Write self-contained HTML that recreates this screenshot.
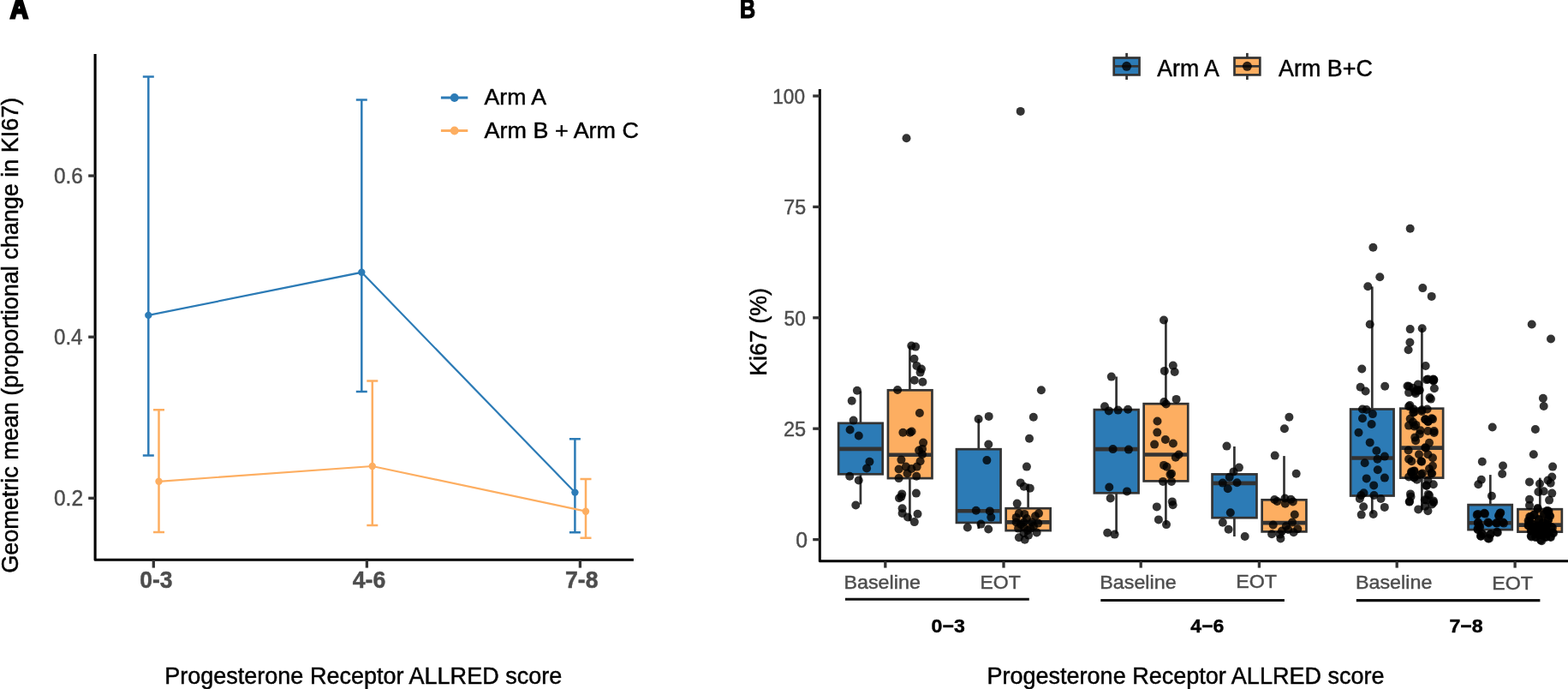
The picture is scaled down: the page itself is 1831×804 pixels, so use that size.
<!DOCTYPE html>
<html lang="en">
<head>
<meta charset="utf-8">
<title>Ki67 by Progesterone Receptor ALLRED score</title>
<style>
html,body{margin:0;padding:0;background:#fff;}
body{width:1831px;height:804px;overflow:hidden;font-family:"Liberation Sans", sans-serif;}
svg{display:block;}
</style>
</head>
<body>
<svg width="1831" height="804" viewBox="0 0 1831 804" font-family='"Liberation Sans", sans-serif'>
<rect width="1831" height="804" fill="#fff"/>
<text transform="translate(22.3 21.3) scale(0.93 1.1)" text-anchor="middle" font-size="31" font-weight="bold" fill="#000" stroke="#000" stroke-width="2.6" stroke-linejoin="miter">A</text>
<text transform="translate(873.0 20.8) scale(0.81 1.02)" text-anchor="middle" font-size="31" font-weight="bold" fill="#000" stroke="#000" stroke-width="1.2" stroke-linejoin="miter">B</text>
<g id="panelA">
<g stroke="#2C7BB6" fill="none">
<polyline stroke-width="2.2" points="173.3,367.9 422.3,317.8 671.4,574.6"/>
<path stroke-width="2.5" d="M173.3 89.6V531.6M166.8 89.6H179.8M166.8 531.6H179.8M422.3 116.4V457M415.8 116.4H428.8M415.8 457H428.8M671.4 512.2V621.3M664.9 512.2H677.9M664.9 621.3H677.9"/>
</g>
<g fill="#2C7BB6"><circle cx="173.3" cy="367.9" r="4.2"/><circle cx="422.3" cy="317.8" r="4.2"/><circle cx="671.4" cy="574.6" r="4.2"/></g>
<g stroke="#FDAE61" fill="none">
<polyline stroke-width="2.2" points="185.5,561.8 434.8,544 684,596.7"/>
<path stroke-width="2.5" d="M185.5 478.3V621.1M179.0 478.3H192.0M179.0 621.1H192.0M434.8 444.5V613M428.3 444.5H441.3M428.3 613H441.3M684 559V627.7M677.5 559H690.5M677.5 627.7H690.5"/>
</g>
<g fill="#FDAE61"><circle cx="185.5" cy="561.8" r="4.2"/><circle cx="434.8" cy="544" r="4.2"/><circle cx="684" cy="596.7" r="4.2"/></g>
<path d="M111.1 63V653.3H739.9" stroke="#000" stroke-width="3.1" fill="none" stroke-linejoin="round"/>
<g stroke="#333" stroke-width="3.3">
<line x1="103.2" x2="111.1" y1="205.1" y2="205.1"/>
<line x1="103.2" x2="111.1" y1="393.2" y2="393.2"/>
<line x1="103.2" x2="111.1" y1="581.3" y2="581.3"/>
<line x1="179.3" x2="179.3" y1="653.3" y2="662.6"/>
<line x1="428.4" x2="428.4" y1="653.3" y2="662.6"/>
<line x1="677.4" x2="677.4" y1="653.3" y2="662.6"/>
</g>
<text transform="translate(63.03 214.04) scale(1.0000 1.0431)" font-size="24.36" fill="#4D4D4D" stroke="#4D4D4D" stroke-width="0.45" >0.6</text>
<text transform="translate(63.04 402.14) scale(1.0000 1.0551)" font-size="24.08" fill="#4D4D4D" stroke="#4D4D4D" stroke-width="0.45" >0.4</text>
<text transform="translate(63.03 590.24) scale(1.0000 1.0391)" font-size="24.45" fill="#4D4D4D" stroke="#4D4D4D" stroke-width="0.45" >0.2</text>
<text transform="translate(163.25 686.10) scale(1.0000 1.0271)" font-size="26.49" font-weight="bold" fill="#4D4D4D" stroke="#4D4D4D" stroke-width="0.45" >0-3</text>
<text transform="translate(411.71 686.10) scale(1.0000 1.0205)" font-size="26.66" font-weight="bold" fill="#4D4D4D" stroke="#4D4D4D" stroke-width="0.45" >4-6</text>
<text transform="translate(660.00 686.10) scale(1.0000 1.0187)" font-size="26.71" font-weight="bold" fill="#4D4D4D" stroke="#4D4D4D" stroke-width="0.45" >7-8</text>
<text transform="translate(192.14 797.70) scale(1.0000 0.9938)" font-size="27.04" fill="#000" stroke="#000" stroke-width="0.45" >Progesterone Receptor ALLRED score</text>
<text transform="translate(20.89 668.74) rotate(-90) scale(1.0000 1.0171)" font-size="27.00" fill="#000" stroke="#000" stroke-width="0.45" >Geometric mean (proportional change in KI67)</text>
<line x1="514.9" x2="546.3" y1="114" y2="114" stroke="#2C7BB6" stroke-width="2.8"/><circle cx="530.7" cy="114" r="4.9" fill="#2C7BB6"/>
<line x1="514.9" x2="546.3" y1="152.5" y2="152.5" stroke="#FDAE61" stroke-width="2.8"/><circle cx="530.7" cy="152.5" r="4.9" fill="#FDAE61"/>
<text transform="translate(565.57 122.30) scale(1.0000 0.9861)" font-size="26.66" fill="#000" stroke="#000" stroke-width="0.45" >Arm A</text>
<text transform="translate(565.57 161.29) scale(1.0000 0.9806)" font-size="26.96" fill="#000" stroke="#000" stroke-width="0.45" >Arm B + Arm C</text>
</g>
<g id="panelB">
<g stroke="#333" stroke-width="2.7" fill="none">
<path d="M1004.9 456.6V493.8M1004.9 553.3V588.4"/>
<rect x="979.15" y="493.8" width="51.50" height="59.50" fill="#2C7BB6"/>
<line x1="979.15" x2="1030.65" y1="523.9" y2="523.9" stroke-width="4.6"/>
</g>
<g stroke="#333" stroke-width="2.7" fill="none">
<path d="M1062.4 403.5V455.3M1062.4 558.1V608.3"/>
<rect x="1036.95" y="455.3" width="51.50" height="102.80" fill="#FDAE61"/>
<line x1="1036.95" x2="1088.45" y1="530.7" y2="530.7" stroke-width="4.6"/>
</g>
<g stroke="#333" stroke-width="2.7" fill="none">
<path d="M1142.8 488.7V524.2M1142.8 609.9V617.0"/>
<rect x="1116.95" y="524.2" width="51.60" height="85.70" fill="#2C7BB6"/>
<line x1="1116.95" x2="1168.55" y1="596.2" y2="596.2" stroke-width="4.6"/>
</g>
<g stroke="#333" stroke-width="2.7" fill="none">
<path d="M1200.6 564.5V593.2M1200.6 619.1V619.1"/>
<rect x="1174.65" y="593.2" width="52.00" height="25.90" fill="#FDAE61"/>
<line x1="1174.65" x2="1226.65" y1="609.4" y2="609.4" stroke-width="4.6"/>
</g>
<g stroke="#333" stroke-width="2.7" fill="none">
<path d="M1303.6 439.6V478.1M1303.6 575.3V622.8"/>
<rect x="1277.85" y="478.1" width="51.70" height="97.20" fill="#2C7BB6"/>
<line x1="1277.85" x2="1329.55" y1="524.1" y2="524.1" stroke-width="4.6"/>
</g>
<g stroke="#333" stroke-width="2.7" fill="none">
<path d="M1361.4 373.5V471.2M1361.4 561.4V612.5"/>
<rect x="1335.65" y="471.2" width="51.60" height="90.20" fill="#FDAE61"/>
<line x1="1335.65" x2="1387.25" y1="530.5" y2="530.5" stroke-width="4.6"/>
</g>
<g stroke="#333" stroke-width="2.7" fill="none">
<path d="M1441.4 521.0V553.4M1441.4 604.2V626.0"/>
<rect x="1415.55" y="553.4" width="51.90" height="50.80" fill="#2C7BB6"/>
<line x1="1415.55" x2="1467.45" y1="563.9" y2="563.9" stroke-width="4.6"/>
</g>
<g stroke="#333" stroke-width="2.7" fill="none">
<path d="M1499.5 532.1V583.3M1499.5 620.4V620.4"/>
<rect x="1473.65" y="583.3" width="51.80" height="37.10" fill="#FDAE61"/>
<line x1="1473.65" x2="1525.45" y1="610.1" y2="610.1" stroke-width="4.6"/>
</g>
<g stroke="#333" stroke-width="2.7" fill="none">
<path d="M1602.3 334.4V477.5M1602.3 578.5V599.5"/>
<rect x="1577.15" y="477.5" width="50.40" height="101.00" fill="#2C7BB6"/>
<line x1="1577.15" x2="1627.55" y1="534.5" y2="534.5" stroke-width="4.6"/>
</g>
<g stroke="#333" stroke-width="2.7" fill="none">
<path d="M1660.4 382.8V476.7M1660.4 557.6V595.5"/>
<rect x="1635.35" y="476.7" width="49.80" height="80.90" fill="#FDAE61"/>
<line x1="1635.35" x2="1685.15" y1="522.6" y2="522.6" stroke-width="4.6"/>
</g>
<g stroke="#333" stroke-width="2.7" fill="none">
<path d="M1740.3 554.1V589.1M1740.3 618.1V618.1"/>
<rect x="1714.55" y="589.1" width="51.20" height="29.00" fill="#2C7BB6"/>
<line x1="1714.55" x2="1765.75" y1="610.3" y2="610.3" stroke-width="4.6"/>
</g>
<g stroke="#333" stroke-width="2.7" fill="none">
<path d="M1798.3 557.6V594.2M1798.3 620.6V620.6"/>
<rect x="1772.45" y="594.2" width="51.40" height="26.40" fill="#FDAE61"/>
<line x1="1772.45" x2="1823.85" y1="612.6" y2="612.6" stroke-width="4.6"/>
</g>
<g fill="#000" fill-opacity="0.8">
<circle cx="1646.7" cy="266.7" r="5"/><circle cx="1603.4" cy="288.7" r="5"/><circle cx="1611.3" cy="323.2" r="5"/><circle cx="1597.3" cy="334.2" r="5"/><circle cx="1599.7" cy="378.5" r="5"/><circle cx="1590.3" cy="430.5" r="5"/><circle cx="1588.6" cy="451.7" r="5"/><circle cx="1594.6" cy="456.5" r="5"/><circle cx="1617.2" cy="450.8" r="5"/><circle cx="1591" cy="477.5" r="5"/><circle cx="1595.7" cy="478" r="5"/><circle cx="1602.9" cy="483.1" r="5"/><circle cx="1591" cy="488.3" r="5"/><circle cx="1601.6" cy="495" r="5"/><circle cx="1586.5" cy="504.7" r="5"/><circle cx="1599.7" cy="516.4" r="5"/><circle cx="1607.4" cy="526" r="5"/><circle cx="1616.9" cy="532.6" r="5"/><circle cx="1608.5" cy="535.8" r="5"/><circle cx="1593.7" cy="540.3" r="5"/><circle cx="1608.8" cy="548.2" r="5"/><circle cx="1595.7" cy="558.4" r="5"/><circle cx="1616.9" cy="557.6" r="5"/><circle cx="1604.2" cy="566.4" r="5"/><circle cx="1592.5" cy="575.3" r="5"/><circle cx="1589.4" cy="578" r="5"/><circle cx="1587.8" cy="582" r="5"/><circle cx="1604.5" cy="578" r="5"/><circle cx="1612.5" cy="582" r="5"/><circle cx="1592.2" cy="591.2" r="5"/><circle cx="1616.8" cy="591.9" r="5"/><circle cx="1589.7" cy="600.6" r="5"/><circle cx="1603.7" cy="600" r="5"/>
<circle cx="1661.3" cy="336.1" r="5"/><circle cx="1671.7" cy="345.9" r="5"/><circle cx="1646.7" cy="384.1" r="5"/><circle cx="1660.7" cy="383.3" r="5"/><circle cx="1646.4" cy="399.5" r="5"/><circle cx="1644.6" cy="408.3" r="5"/><circle cx="1664.7" cy="427" r="5"/><circle cx="1667.4" cy="442.5" r="5"/><circle cx="1674.2" cy="443.6" r="5"/><circle cx="1673.6" cy="444.4" r="5"/><circle cx="1655.9" cy="448.5" r="5"/><circle cx="1645.1" cy="450.8" r="5"/><circle cx="1649.9" cy="452.8" r="5"/><circle cx="1657.8" cy="455.2" r="5"/><circle cx="1674.9" cy="453.3" r="5"/><circle cx="1645.1" cy="458.1" r="5"/><circle cx="1652.3" cy="457.1" r="5"/><circle cx="1653" cy="459.2" r="5"/><circle cx="1670.9" cy="465.6" r="5"/><circle cx="1645.1" cy="474.3" r="5"/><circle cx="1650.7" cy="477.5" r="5"/><circle cx="1666.6" cy="477.5" r="5"/><circle cx="1660.2" cy="480" r="5"/><circle cx="1651.5" cy="480.7" r="5"/><circle cx="1646.7" cy="488.7" r="5"/><circle cx="1664.2" cy="489.5" r="5"/><circle cx="1671.8" cy="488.3" r="5"/><circle cx="1667.4" cy="491.9" r="5"/><circle cx="1649.9" cy="492.6" r="5"/><circle cx="1645.1" cy="496.6" r="5"/><circle cx="1651.5" cy="497.4" r="5"/><circle cx="1658.6" cy="502.2" r="5"/><circle cx="1667.4" cy="503" r="5"/><circle cx="1674.6" cy="504.9" r="5"/><circle cx="1657.8" cy="506.4" r="5"/><circle cx="1652.3" cy="510.4" r="5"/><circle cx="1653.1" cy="514.3" r="5"/><circle cx="1669" cy="516.7" r="5"/><circle cx="1664.2" cy="522.3" r="5"/><circle cx="1644.6" cy="525.5" r="5"/><circle cx="1657" cy="530.3" r="5"/><circle cx="1667.4" cy="530.3" r="5"/><circle cx="1673" cy="534.2" r="5"/><circle cx="1645.1" cy="535.8" r="5"/><circle cx="1648.3" cy="538.2" r="5"/><circle cx="1659.4" cy="538.2" r="5"/><circle cx="1673" cy="543.8" r="5"/><circle cx="1669" cy="547" r="5"/><circle cx="1651.5" cy="549.4" r="5"/><circle cx="1648.3" cy="551.8" r="5"/><circle cx="1661" cy="552.5" r="5"/><circle cx="1672.2" cy="552.5" r="5"/><circle cx="1645.1" cy="556.5" r="5"/><circle cx="1651.5" cy="557.3" r="5"/><circle cx="1654.6" cy="559.7" r="5"/><circle cx="1667.4" cy="560.5" r="5"/><circle cx="1673.8" cy="565.3" r="5"/><circle cx="1665.8" cy="566.9" r="5"/><circle cx="1647" cy="576.4" r="5"/><circle cx="1647.5" cy="579.6" r="5"/><circle cx="1669" cy="578" r="5"/><circle cx="1645.9" cy="585.2" r="5"/><circle cx="1665.8" cy="583.6" r="5"/><circle cx="1673.8" cy="584.4" r="5"/><circle cx="1672.2" cy="588.4" r="5"/><circle cx="1656.2" cy="594.4" r="5"/><circle cx="1667.4" cy="596.3" r="5"/><circle cx="1664.2" cy="590.8" r="5"/><circle cx="1666.0" cy="443.1" r="5"/><circle cx="1674.3" cy="443.1" r="5"/><circle cx="1673.6" cy="442.5" r="5"/><circle cx="1643.5" cy="450.5" r="5"/><circle cx="1656.7" cy="455.7" r="5"/><circle cx="1654.2" cy="455.3" r="5"/><circle cx="1669.5" cy="464.1" r="5"/><circle cx="1646.4" cy="473.0" r="5"/><circle cx="1660.4" cy="478.3" r="5"/><circle cx="1650.3" cy="481.4" r="5"/><circle cx="1664.5" cy="489.3" r="5"/><circle cx="1673.0" cy="489.1" r="5"/><circle cx="1667.7" cy="492.0" r="5"/><circle cx="1653.4" cy="495.9" r="5"/><circle cx="1674.6" cy="503.1" r="5"/><circle cx="1665.0" cy="522.7" r="5"/><circle cx="1660.2" cy="538.8" r="5"/><circle cx="1651.0" cy="550.1" r="5"/><circle cx="1648.1" cy="550.5" r="5"/><circle cx="1659.2" cy="553.6" r="5"/><circle cx="1671.2" cy="552.1" r="5"/><circle cx="1651.3" cy="557.5" r="5"/><circle cx="1665.5" cy="566.3" r="5"/><circle cx="1667.7" cy="576.9" r="5"/><circle cx="1645.8" cy="585.6" r="5"/><circle cx="1663.8" cy="583.3" r="5"/><circle cx="1674.1" cy="586.2" r="5"/>
<circle cx="1742.7" cy="498.5" r="5"/><circle cx="1730.8" cy="538.7" r="5"/><circle cx="1755" cy="543.5" r="5"/><circle cx="1754.2" cy="553" r="5"/><circle cx="1729.8" cy="559.7" r="5"/><circle cx="1726.3" cy="565.3" r="5"/><circle cx="1741.9" cy="578.8" r="5"/><circle cx="1725.8" cy="599.9" r="5"/><circle cx="1733.3" cy="598.7" r="5"/><circle cx="1751.6" cy="598.7" r="5"/><circle cx="1750.4" cy="602.3" r="5"/><circle cx="1725.8" cy="610.6" r="5"/><circle cx="1738.5" cy="610.2" r="5"/><circle cx="1748" cy="610.6" r="5"/><circle cx="1756" cy="610.6" r="5"/><circle cx="1728.2" cy="615" r="5"/><circle cx="1725.8" cy="618.2" r="5"/><circle cx="1730.5" cy="623" r="5"/><circle cx="1748.8" cy="621.4" r="5"/><circle cx="1729.4" cy="625.7" r="5"/><circle cx="1740.9" cy="623" r="5"/><circle cx="1737.7" cy="628.5" r="5"/><circle cx="1724.7" cy="600.9" r="5"/><circle cx="1734.0" cy="599.6" r="5"/><circle cx="1752.3" cy="598.4" r="5"/><circle cx="1750.2" cy="601.3" r="5"/><circle cx="1726.1" cy="609.5" r="5"/><circle cx="1737.5" cy="609.5" r="5"/><circle cx="1747.2" cy="610.2" r="5"/><circle cx="1754.9" cy="609.4" r="5"/><circle cx="1727.4" cy="614.0" r="5"/><circle cx="1725.5" cy="617.1" r="5"/><circle cx="1731.4" cy="623.3" r="5"/><circle cx="1748.0" cy="620.8" r="5"/><circle cx="1729.0" cy="625.4" r="5"/><circle cx="1740.0" cy="623.8" r="5"/><circle cx="1738.9" cy="628.4" r="5"/>
<circle cx="1788.7" cy="378.5" r="5"/><circle cx="1811" cy="395.5" r="5"/><circle cx="1801.9" cy="464.8" r="5"/><circle cx="1802.7" cy="474" r="5"/><circle cx="1792.9" cy="501" r="5"/><circle cx="1790.8" cy="530.3" r="5"/><circle cx="1813.1" cy="544.6" r="5"/><circle cx="1812.3" cy="556.5" r="5"/><circle cx="1807.5" cy="560.5" r="5"/><circle cx="1786" cy="562.4" r="5"/><circle cx="1798" cy="564.5" r="5"/><circle cx="1810.7" cy="563.7" r="5"/><circle cx="1796.4" cy="574" r="5"/><circle cx="1802.7" cy="573.2" r="5"/><circle cx="1812.3" cy="575.6" r="5"/><circle cx="1786" cy="582.8" r="5"/><circle cx="1809.1" cy="583.6" r="5"/><circle cx="1786" cy="589.8" r="5"/><circle cx="1795.6" cy="594" r="5"/><circle cx="1807.5" cy="596.3" r="5"/><circle cx="1808.5" cy="596.7" r="5"/><circle cx="1810.1" cy="602.3" r="5"/><circle cx="1786.2" cy="603.1" r="5"/><circle cx="1791.8" cy="600.7" r="5"/><circle cx="1803.7" cy="599.9" r="5"/><circle cx="1784.6" cy="607.8" r="5"/><circle cx="1784.6" cy="613.4" r="5"/><circle cx="1789.4" cy="611.8" r="5"/><circle cx="1795" cy="613.4" r="5"/><circle cx="1801.4" cy="610.2" r="5"/><circle cx="1806.9" cy="611.8" r="5"/><circle cx="1811.7" cy="615" r="5"/><circle cx="1813.3" cy="621.4" r="5"/><circle cx="1787.8" cy="619.8" r="5"/><circle cx="1793.4" cy="619.8" r="5"/><circle cx="1799.8" cy="619.8" r="5"/><circle cx="1806.1" cy="619.8" r="5"/><circle cx="1787.8" cy="625.3" r="5"/><circle cx="1793.4" cy="626.1" r="5"/><circle cx="1799" cy="630.1" r="5"/><circle cx="1805.3" cy="626.9" r="5"/><circle cx="1810.9" cy="626.9" r="5"/><circle cx="1801.4" cy="624.5" r="5"/><circle cx="1790" cy="615" r="5"/><circle cx="1797" cy="606" r="5"/><circle cx="1804" cy="616" r="5"/><circle cx="1796" cy="623" r="5"/><circle cx="1803" cy="621" r="5"/><circle cx="1808" cy="607" r="5"/><circle cx="1800" cy="614" r="5"/><circle cx="1795.6" cy="593.0" r="5"/><circle cx="1806.5" cy="595.9" r="5"/><circle cx="1807.9" cy="597.5" r="5"/><circle cx="1809.3" cy="601.2" r="5"/><circle cx="1787.3" cy="603.2" r="5"/><circle cx="1791.0" cy="600.8" r="5"/><circle cx="1802.6" cy="600.0" r="5"/><circle cx="1785.7" cy="608.7" r="5"/><circle cx="1785.1" cy="612.8" r="5"/><circle cx="1789.1" cy="611.0" r="5"/><circle cx="1795.7" cy="613.5" r="5"/><circle cx="1802.1" cy="609.8" r="5"/><circle cx="1806.2" cy="612.5" r="5"/><circle cx="1812.9" cy="615.8" r="5"/><circle cx="1814.0" cy="622.2" r="5"/><circle cx="1788.4" cy="619.1" r="5"/><circle cx="1793.4" cy="619.5" r="5"/><circle cx="1798.7" cy="618.7" r="5"/><circle cx="1805.6" cy="619.2" r="5"/><circle cx="1788.3" cy="626.4" r="5"/><circle cx="1793.3" cy="627.1" r="5"/><circle cx="1800.2" cy="631.2" r="5"/><circle cx="1805.0" cy="626.2" r="5"/><circle cx="1810.2" cy="626.2" r="5"/><circle cx="1800.7" cy="624.8" r="5"/><circle cx="1791.0" cy="615.8" r="5"/><circle cx="1797.0" cy="606.4" r="5"/><circle cx="1804.7" cy="615.0" r="5"/><circle cx="1796.4" cy="624.0" r="5"/><circle cx="1803.7" cy="621.6" r="5"/><circle cx="1807.9" cy="606.2" r="5"/><circle cx="1800.7" cy="613.6" r="5"/>
<circle cx="1297.8" cy="439.6" r="5"/><circle cx="1290" cy="474.3" r="5"/><circle cx="1294.8" cy="479.4" r="5"/><circle cx="1305.6" cy="478.6" r="5"/><circle cx="1317.1" cy="477.8" r="5"/><circle cx="1299.6" cy="524.1" r="5"/><circle cx="1317.9" cy="524.6" r="5"/><circle cx="1295.3" cy="568.5" r="5"/><circle cx="1316" cy="573.4" r="5"/><circle cx="1296.7" cy="581.4" r="5"/><circle cx="1293.2" cy="621.7" r="5"/><circle cx="1301.6" cy="623.6" r="5"/>
<circle cx="1359" cy="373.5" r="5"/><circle cx="1369.8" cy="426.6" r="5"/><circle cx="1359.8" cy="432.9" r="5"/><circle cx="1371.7" cy="434" r="5"/><circle cx="1373.6" cy="465.9" r="5"/><circle cx="1359.3" cy="469.1" r="5"/><circle cx="1361.7" cy="471.5" r="5"/><circle cx="1351.5" cy="491.5" r="5"/><circle cx="1351.3" cy="504.6" r="5"/><circle cx="1360.9" cy="513" r="5"/><circle cx="1369.9" cy="517.5" r="5"/><circle cx="1348.1" cy="518.6" r="5"/><circle cx="1376.5" cy="530.5" r="5"/><circle cx="1372.8" cy="533.7" r="5"/><circle cx="1359" cy="542.9" r="5"/><circle cx="1362.5" cy="544.8" r="5"/><circle cx="1368" cy="552.8" r="5"/><circle cx="1366.5" cy="553.6" r="5"/><circle cx="1358" cy="561.9" r="5"/><circle cx="1368" cy="561.9" r="5"/><circle cx="1368.8" cy="585.4" r="5"/><circle cx="1369.6" cy="589.3" r="5"/><circle cx="1350.8" cy="591.4" r="5"/><circle cx="1352.9" cy="606.4" r="5"/><circle cx="1362" cy="612.1" r="5"/>
<circle cx="1432.5" cy="520.6" r="5"/><circle cx="1446.9" cy="545.6" r="5"/><circle cx="1440.5" cy="550.4" r="5"/><circle cx="1435.7" cy="556.8" r="5"/><circle cx="1427.8" cy="563.6" r="5"/><circle cx="1444.5" cy="563.2" r="5"/><circle cx="1433.8" cy="570.3" r="5"/><circle cx="1436.8" cy="598.2" r="5"/><circle cx="1427.8" cy="609.7" r="5"/><circle cx="1434.6" cy="617.7" r="5"/><circle cx="1453.7" cy="626" r="5"/>
<circle cx="1505.4" cy="486.7" r="5"/><circle cx="1499.9" cy="500.3" r="5"/><circle cx="1488.7" cy="531.6" r="5"/><circle cx="1513.7" cy="552.7" r="5"/><circle cx="1488.3" cy="583" r="5"/><circle cx="1491.4" cy="585" r="5"/><circle cx="1500.5" cy="581.5" r="5"/><circle cx="1500.8" cy="587.8" r="5"/><circle cx="1507.4" cy="582.8" r="5"/><circle cx="1509.8" cy="585.4" r="5"/><circle cx="1511.8" cy="600.5" r="5"/><circle cx="1509" cy="609.6" r="5"/><circle cx="1486.7" cy="612.5" r="5"/><circle cx="1501.8" cy="614" r="5"/><circle cx="1515.3" cy="617.2" r="5"/><circle cx="1510.6" cy="621.2" r="5"/><circle cx="1504.2" cy="618" r="5"/><circle cx="1497" cy="619.6" r="5"/><circle cx="1485.1" cy="623.3" r="5"/><circle cx="1494.6" cy="623.6" r="5"/><circle cx="1495.4" cy="628.4" r="5"/>
<circle cx="1000.9" cy="455.8" r="5"/><circle cx="994.7" cy="467.7" r="5"/><circle cx="996.6" cy="490.6" r="5"/><circle cx="992.6" cy="501.5" r="5"/><circle cx="1002.8" cy="508.5" r="5"/><circle cx="1015.4" cy="538.7" r="5"/><circle cx="1012.1" cy="546.5" r="5"/><circle cx="992.2" cy="555.7" r="5"/><circle cx="1002.7" cy="560.5" r="5"/><circle cx="999.3" cy="589.5" r="5"/>
<circle cx="1058.5" cy="161.3" r="5"/><circle cx="1064.3" cy="403.5" r="5"/><circle cx="1069.1" cy="404.6" r="5"/><circle cx="1067.5" cy="418.7" r="5"/><circle cx="1070.4" cy="426.9" r="5"/><circle cx="1075.9" cy="430.6" r="5"/><circle cx="1074.6" cy="434.6" r="5"/><circle cx="1067.8" cy="443.7" r="5"/><circle cx="1077.4" cy="445.7" r="5"/><circle cx="1048.1" cy="455" r="5"/><circle cx="1073.9" cy="482" r="5"/><circle cx="1054.4" cy="504.7" r="5"/><circle cx="1062.7" cy="504.8" r="5"/><circle cx="1064.6" cy="503.5" r="5"/><circle cx="1078.1" cy="516.6" r="5"/><circle cx="1077" cy="523.9" r="5"/><circle cx="1073.1" cy="525.5" r="5"/><circle cx="1077" cy="530.3" r="5"/><circle cx="1052.4" cy="536.6" r="5"/><circle cx="1074.6" cy="538.2" r="5"/><circle cx="1057.9" cy="544.6" r="5"/><circle cx="1070.7" cy="544.6" r="5"/><circle cx="1064.3" cy="547" r="5"/><circle cx="1049.6" cy="547.5" r="5"/><circle cx="1059.5" cy="552.5" r="5"/><circle cx="1070.2" cy="555.7" r="5"/><circle cx="1049.6" cy="558.1" r="5"/><circle cx="1053.2" cy="576.4" r="5"/><circle cx="1069.9" cy="575.6" r="5"/><circle cx="1050" cy="581.2" r="5"/><circle cx="1052.4" cy="579.6" r="5"/><circle cx="1053.6" cy="593.2" r="5"/><circle cx="1053.6" cy="599" r="5"/><circle cx="1071.5" cy="599.8" r="5"/><circle cx="1060" cy="603.5" r="5"/><circle cx="1067.8" cy="609.1" r="5"/>
<circle cx="1142.6" cy="489" r="5"/><circle cx="1154.7" cy="485.9" r="5"/><circle cx="1154.3" cy="518.5" r="5"/><circle cx="1152.4" cy="537.1" r="5"/><circle cx="1139.8" cy="595.7" r="5"/><circle cx="1155.8" cy="596.4" r="5"/><circle cx="1157.3" cy="603.6" r="5"/><circle cx="1145.5" cy="611.6" r="5"/><circle cx="1129.8" cy="615.5" r="5"/><circle cx="1154.2" cy="617.5" r="5"/>
<circle cx="1191.7" cy="129.9" r="5"/><circle cx="1215.9" cy="455.3" r="5"/><circle cx="1206.8" cy="486.8" r="5"/><circle cx="1202" cy="511.7" r="5"/><circle cx="1198.9" cy="544.6" r="5"/><circle cx="1191.7" cy="563.4" r="5"/><circle cx="1195.7" cy="567.7" r="5"/><circle cx="1202.8" cy="569.7" r="5"/><circle cx="1187.7" cy="587.6" r="5"/><circle cx="1189.9" cy="599.1" r="5"/><circle cx="1196.3" cy="599.9" r="5"/><circle cx="1213" cy="599.1" r="5"/><circle cx="1209" cy="602.3" r="5"/><circle cx="1186.7" cy="603.9" r="5"/><circle cx="1186.7" cy="609.4" r="5"/><circle cx="1195.5" cy="609.4" r="5"/><circle cx="1205" cy="609.4" r="5"/><circle cx="1212.2" cy="610.6" r="5"/><circle cx="1189.1" cy="616.6" r="5"/><circle cx="1195.5" cy="615" r="5"/><circle cx="1203.4" cy="616.6" r="5"/><circle cx="1210.6" cy="621.4" r="5"/><circle cx="1195.5" cy="622.2" r="5"/><circle cx="1201" cy="624.6" r="5"/><circle cx="1189.9" cy="627.3" r="5"/><circle cx="1196.7" cy="629.7" r="5"/><circle cx="1199" cy="605" r="5"/><circle cx="1192" cy="612" r="5"/><circle cx="1200" cy="619" r="5"/><circle cx="1207" cy="614" r="5"/>
</g>
<path d="M957.3 104.1V654.8H1832" stroke="#000" stroke-width="3.0" fill="none" stroke-linejoin="round"/>
<g stroke="#333" stroke-width="3.3">
<line x1="949.2" x2="957.3" y1="112" y2="112"/>
<line x1="949.2" x2="957.3" y1="241.4" y2="241.4"/>
<line x1="949.2" x2="957.3" y1="370.8" y2="370.8"/>
<line x1="949.2" x2="957.3" y1="500.2" y2="500.2"/>
<line x1="949.2" x2="957.3" y1="629.6" y2="629.6"/>
<line x1="1033.8" x2="1033.8" y1="654.8" y2="662.6"/>
<line x1="1172" x2="1172" y1="654.8" y2="662.6"/>
<line x1="1332.2" x2="1332.2" y1="654.8" y2="662.6"/>
<line x1="1470.4" x2="1470.4" y1="654.8" y2="662.6"/>
<line x1="1631.2" x2="1631.2" y1="654.8" y2="662.6"/>
<line x1="1769.1" x2="1769.1" y1="654.8" y2="662.6"/>
</g>
<text transform="translate(902.27 120.76) scale(1.0000 1.0306)" font-size="22.60" fill="#4D4D4D" stroke="#4D4D4D" stroke-width="0.45" >100</text>
<text transform="translate(915.34 250.26) scale(1.0000 0.9987)" font-size="23.23" fill="#4D4D4D" stroke="#4D4D4D" stroke-width="0.45" >75</text>
<text transform="translate(915.60 379.56) scale(1.0000 1.0214)" font-size="22.71" fill="#4D4D4D" stroke="#4D4D4D" stroke-width="0.45" >50</text>
<text transform="translate(915.03 509.26) scale(1.0000 0.9862)" font-size="23.52" fill="#4D4D4D" stroke="#4D4D4D" stroke-width="0.45" >25</text>
<text transform="translate(929.31 639.05) scale(1.0000 1.0010)" font-size="24.82" fill="#4D4D4D" stroke="#4D4D4D" stroke-width="0.45" >0</text>
<text transform="translate(985.44 686.89) scale(1.0000 0.9845)" font-size="23.31" fill="#4D4D4D" stroke="#4D4D4D" stroke-width="0.45" >Baseline</text>
<text transform="translate(1144.46 686.89) scale(1.0000 0.9973)" font-size="23.01" fill="#4D4D4D" stroke="#4D4D4D" stroke-width="0.45" >EOT</text>
<text transform="translate(1284.24 686.89) scale(1.0000 0.9845)" font-size="23.31" fill="#4D4D4D" stroke="#4D4D4D" stroke-width="0.45" >Baseline</text>
<text transform="translate(1443.15 685.70) scale(1.0000 0.9885)" font-size="23.22" fill="#4D4D4D" stroke="#4D4D4D" stroke-width="0.45" >EOT</text>
<text transform="translate(1582.94 686.89) scale(1.0000 0.9845)" font-size="23.31" fill="#4D4D4D" stroke="#4D4D4D" stroke-width="0.45" >Baseline</text>
<text transform="translate(1742.25 687.70) scale(1.0000 0.9907)" font-size="23.17" fill="#4D4D4D" stroke="#4D4D4D" stroke-width="0.45" >EOT</text>
<g stroke="#111" stroke-width="3.1">
<line x1="986.9" x2="1201.8" y1="699.3" y2="699.3"/>
<line x1="1285.3" x2="1499.9" y1="700.5" y2="700.5"/>
<line x1="1583.8" x2="1798.4" y1="700.6" y2="700.6"/>
</g>
<text transform="translate(1087.58 738.05) scale(1.0000 0.9563)" font-size="23.14" font-weight="bold" fill="#000" stroke="#000" stroke-width="0.45" >0−3</text>
<text transform="translate(1390.36 738.05) scale(1.0000 0.9633)" font-size="22.97" font-weight="bold" fill="#000" stroke="#000" stroke-width="0.45" >4−6</text>
<text transform="translate(1692.46 738.05) scale(1.0000 0.9563)" font-size="23.14" font-weight="bold" fill="#000" stroke="#000" stroke-width="0.45" >7−8</text>
<text transform="translate(1152.44 797.70) scale(1.0000 0.9938)" font-size="27.04" fill="#000" stroke="#000" stroke-width="0.45" >Progesterone Receptor ALLRED score</text>
<text transform="translate(895.20 438.74) rotate(-90) scale(1.0000 1.0364)" font-size="26.77" fill="#000" stroke="#000" stroke-width="0.45" >Ki67 (%)</text>
<g stroke="#333" stroke-width="2.7"><path d="M1315.6 61.9V93"/><rect x="1300.6999999999998" y="67.5" width="29.8" height="19.9" fill="#2C7BB6"/><line x1="1300.6999999999998" x2="1330.5" y1="77.3" y2="77.3"/></g>
<circle cx="1315.6" cy="77.3" r="5.5" fill="#000" fill-opacity="0.8"/>
<g stroke="#333" stroke-width="2.7"><path d="M1456.4 61.9V93"/><rect x="1441.5" y="67.5" width="29.8" height="19.9" fill="#FDAE61"/><line x1="1441.5" x2="1471.3000000000002" y1="77.3" y2="77.3"/></g>
<circle cx="1456.4" cy="77.3" r="5.5" fill="#000" fill-opacity="0.8"/>
<text transform="translate(1351.27 89.09) scale(1.0000 1.0134)" font-size="26.66" fill="#000" stroke="#000" stroke-width="0.45" >Arm A</text>
<text transform="translate(1493.07 89.00) scale(1.0000 0.9995)" font-size="26.89" fill="#000" stroke="#000" stroke-width="0.45" >Arm B+C</text>
</g>
</svg>
</body>
</html>
